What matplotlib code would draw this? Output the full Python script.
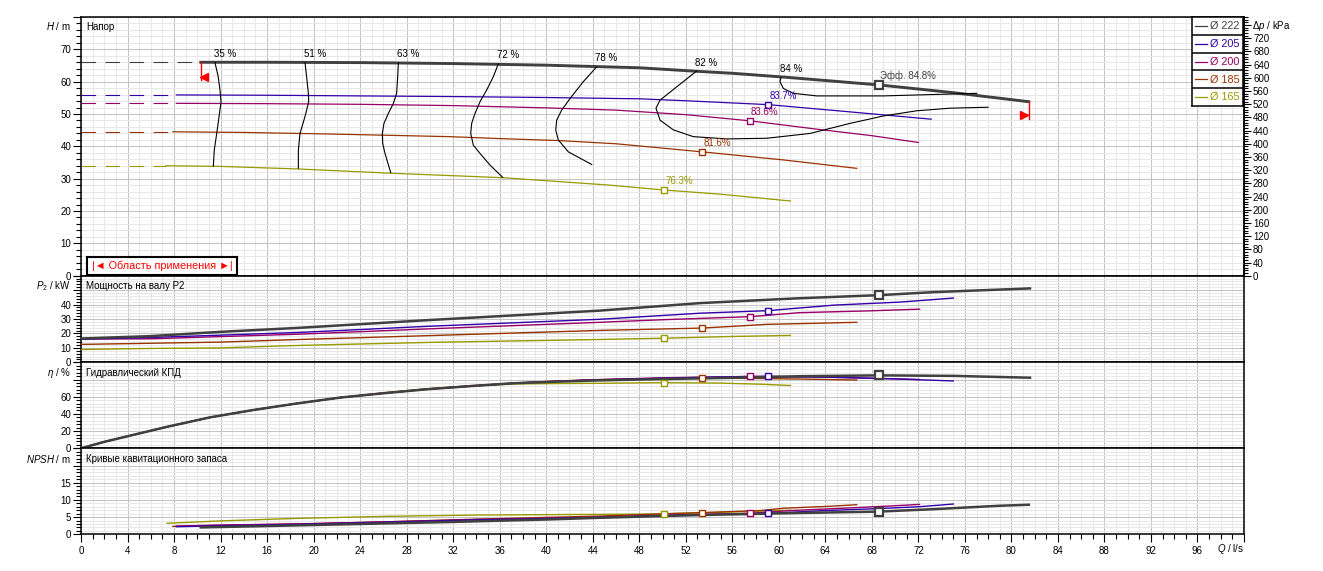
import matplotlib
matplotlib.use('Agg')
import matplotlib.pyplot as plt
from matplotlib.ticker import MultipleLocator, FuncFormatter
from matplotlib.transforms import offset_copy

plt.rcParams['font.family'] = ['Liberation Sans', 'DejaVu Sans']
plt.rcParams['mathtext.fontset'] = 'custom'
plt.rcParams['mathtext.rm'] = 'Liberation Sans'
plt.rcParams['mathtext.it'] = 'Liberation Sans:italic'
plt.rcParams['lines.scale_dashes'] = False

# ---------------- data ----------------
diam_labels = ['Ø 222', 'Ø 205', 'Ø 200', 'Ø 185', 'Ø 165']
colors = ['#404040', '#3300aa', '#990066', '#993300', '#999900']

# Head curves H(Q)
q_h_222 = [10.3, 16, 24, 32, 40, 48, 53, 56, 60.5, 68.6, 75, 81.5]
h_222 = [66.0, 66.0, 65.9, 65.6, 65.1, 64.3, 63.2, 62.6, 61.4, 59.0, 56.6, 53.8]
q_h_205 = [8.2, 16, 24, 32, 40, 48, 52, 59.1, 66, 73.1]
h_205 = [55.9, 55.8, 55.6, 55.4, 55.1, 54.7, 54.1, 52.9, 50.7, 48.4]
q_h_200 = [8.2, 16, 24, 32, 40, 46, 52, 57.5, 63.3, 68, 72.0]
h_200 = [53.3, 53.2, 53.0, 52.6, 51.9, 51.2, 49.8, 47.9, 45.3, 43.3, 41.2]
q_h_185 = [7.9, 14, 21.6, 31.7, 36, 41, 46, 53.4, 60.4, 66.7]
h_185 = [44.5, 44.3, 43.8, 43.0, 42.4, 41.8, 40.8, 38.3, 35.8, 33.2]
q_h_165 = [7.3, 12, 18.7, 26.6, 36.3, 45.5, 50.1, 55, 61]
h_165 = [34.0, 33.8, 33.0, 31.7, 30.3, 28.0, 26.5, 25.2, 23.1]

# Shaft power P2(Q)
q_p_222 = [0, 5.9, 12, 18.8, 30, 44.6, 53.2, 61.8, 68.6, 73.3, 81.6]
p_222 = [16.5, 18.1, 21.1, 23.9, 29.3, 35.8, 41.0, 44.4, 46.5, 48.6, 51.2]
q_p_205 = [0, 6, 12, 18.8, 30, 44.6, 53.2, 59.1, 64.7, 70.4, 75]
p_205 = [16.0, 17.2, 18.8, 20.7, 25.0, 29.8, 34.0, 35.8, 39.6, 41.7, 44.5]
q_p_200 = [0, 6, 12, 18.8, 30, 44.6, 50, 57.5, 61.8, 67.6, 72.1]
p_200 = [16.1, 16.3, 17.8, 19.5, 23.2, 27.7, 29.5, 31.6, 34.4, 35.6, 36.8]
q_p_185 = [0, 6, 12, 18.8, 30, 44.6, 53.4, 59, 66.7]
p_185 = [12.4, 13.2, 14.0, 15.8, 18.5, 22.1, 23.7, 26.3, 27.7]
q_p_165 = [0, 6, 12, 18.8, 30, 44.6, 50.1, 56, 61]
p_165 = [8.9, 9.6, 10.0, 11.7, 13.8, 15.8, 16.7, 17.9, 18.6]

# Hydraulic efficiency eta(Q)
q_e_222 = [0, 2, 4, 7.4, 11.1, 14.8, 18.5, 22.3, 26, 29.7, 33.5, 37.2, 41, 44.6, 50, 56, 61.8, 68.6, 75, 81.6]
e_222 = [0, 7.5, 14, 25, 36, 44.5, 52, 59, 64, 68.6, 72.3, 75.6, 77.5, 79.0, 80.5, 82.0, 83.8, 84.8, 84.2, 82.1]
q_e_205 = [0, 2, 4, 7.4, 11.1, 14.8, 18.5, 22.3, 26, 29.7, 33.5, 37.2, 41, 44.6, 50, 55, 59.1, 65, 70.4, 75]
e_205 = [0, 7.5, 14, 25, 36, 44.5, 52, 59, 64, 68.6, 72.3, 75.6, 78.0, 79.5, 81.5, 83.0, 83.7, 82.5, 80.5, 78.3]
q_e_200 = [0, 2, 4, 7.4, 11.1, 14.8, 18.5, 22.3, 26, 29.7, 33.5, 37.2, 41, 44.6, 50, 57.5, 63, 68, 72.1]
e_200 = [0, 7.5, 14, 25, 36, 44.5, 52, 59, 64, 68.6, 72.3, 75.6, 78.0, 79.8, 82.0, 83.6, 83.0, 81.5, 80.0]
q_e_185 = [0, 2, 4, 7.4, 11.1, 14.8, 18.5, 22.3, 26, 29.7, 33.5, 37.2, 41, 44.6, 49, 53.4, 58, 62, 66.7]
e_185 = [0, 7.5, 14, 25, 36, 44.5, 52, 59, 64.3, 69.0, 72.8, 76.0, 78.3, 80.0, 81.0, 81.6, 81.2, 80.5, 79.4]
q_e_165 = [0, 2, 4, 7.4, 11.1, 14.8, 18.5, 22.3, 26, 29.7, 33.5, 37.2, 41, 44.6, 50.1, 55, 58.5, 61]
e_165 = [0, 7.5, 14, 25, 36, 44.5, 52, 59, 64.5, 69.2, 72.5, 74.8, 75.3, 75.6, 76.3, 75.8, 74.5, 73.0]

# NPSH(Q)
q_n_222 = [10.3, 16, 24, 32, 40, 44.6, 53.2, 61.8, 68.6, 73.3, 79, 81.5]
n_222 = [2.0, 2.4, 3.0, 3.6, 4.3, 4.8, 5.6, 6.2, 6.6, 7.3, 8.3, 8.6]
q_n_205 = [8.2, 12, 18.5, 26, 34, 44.6, 52, 59.1, 64, 68, 72, 75]
n_205 = [2.2, 2.5, 2.9, 3.5, 4.2, 4.9, 5.6, 6.1, 6.9, 7.4, 8.0, 8.8]
q_n_200 = [8.2, 12, 18.5, 26, 34, 44.6, 52, 57.5, 61, 65, 70, 72.1]
n_200 = [2.4, 2.7, 3.0, 3.6, 4.3, 5.0, 5.7, 6.1, 6.9, 7.5, 8.3, 8.7]
q_n_185 = [7.9, 12, 18.8, 26, 34, 44.6, 51.2, 53.4, 58.4, 60.5, 64.1, 66.7]
n_185 = [2.3, 2.6, 3.0, 3.6, 4.4, 5.3, 6.1, 6.3, 6.9, 7.6, 8.1, 8.6]
q_n_165 = [7.4, 12, 18.8, 26, 34, 44.6, 50.1, 55, 61]
n_165 = [3.2, 3.9, 4.65, 5.2, 5.6, 5.8, 5.9, 6.4, 7.0]

# Best efficiency points
bep_q = [68.6, 59.1, 57.5, 53.4, 50.1]
bep_h = [59.0, 52.8, 47.9, 38.3, 26.5]
bep_p = [46.5, 35.8, 31.6, 23.7, 16.7]
bep_e = [84.8, 83.7, 83.6, 81.6, 76.3]
bep_n = [6.6, 6.1, 6.1, 6.3, 5.9]
bep_labels = ['Эфф. 84.8%', '83.7%', '83.6%', '81.6%', '76.3%']

# Iso-efficiency curves (Q, H)
iso_labels = ['35 %', '51 %', '63 %', '72 %', '78 %', '82 %', '84 %']
iso_35_q = [11.52, 11.8, 11.95, 12.04, 11.87, 11.67, 11.46, 11.38]
iso_35_h = [65.9, 61.5, 57.4, 53.8, 49.2, 44.0, 38.9, 33.9]
iso_51_q = [19.26, 19.4, 19.55, 19.58, 19.26, 18.83, 18.69, 18.69]
iso_51_h = [65.9, 61.5, 56.4, 53.8, 49.2, 44.0, 38.9, 33.2]
iso_63_q = [27.29, 27.23, 27.14, 26.86, 26.43, 26.05, 25.91, 25.94, 26.14, 26.63]
iso_63_h = [65.9, 61.5, 56.4, 53.3, 50.2, 47.1, 44.0, 40.9, 37.8, 31.9]
iso_72_q = [35.88, 35.45, 34.88, 34.31, 33.88, 33.59, 33.51, 33.73, 34.31, 35.17, 36.26]
iso_72_h = [65.5, 61.5, 57.4, 53.8, 50.2, 47.1, 44.0, 40.4, 37.8, 34.2, 30.4]
iso_78_q = [44.34, 43.19, 42.05, 41.33, 40.90, 40.82, 41.04, 41.9, 43.91]
iso_78_h = [64.6, 60.0, 54.8, 51.2, 48.1, 45.0, 42.0, 38.3, 34.4]
iso_82_q = [52.94, 51.22, 49.79, 49.44, 49.79, 50.93, 52.65, 55.52, 58.96, 62.7, 66.12, 68.99, 71.86, 74.72, 78.0]
iso_82_h = [63.3, 58.4, 54.3, 51.8, 48.1, 45.1, 43.0, 42.3, 42.5, 44.0, 47.1, 49.4, 51.0, 51.8, 52.1]
iso_84_q = [60.19, 60.1, 60.39, 61.25, 63.26, 68.99, 77.02]
iso_84_h = [61.3, 60.0, 57.9, 56.4, 55.6, 55.6, 56.4]

# ---------------- layout ----------------
W, HP = 1323, 571


def rect(x0, y0, x1, y1):
    return [x0 / W, 1 - y1 / HP, (x1 - x0) / W, (y1 - y0) / HP]


def fxy(x, y):
    return x / W, 1 - y / HP


fig = plt.figure(figsize=(W / 100, HP / 100), dpi=100)
ax_h = fig.add_axes(rect(81, 17, 1244, 275.7))
ax_p = fig.add_axes(rect(81, 275.7, 1244, 362.3), sharex=ax_h)
ax_e = fig.add_axes(rect(81, 362.3, 1244, 448.3), sharex=ax_h)
ax_n = fig.add_axes(rect(81, 448.3, 1244, 534.3), sharex=ax_h)


def style(ax, ymax, major, minor, hide_from):
    ax.set_xlim(0, 100)
    ax.set_ylim(0, ymax)
    ax.yaxis.set_major_locator(MultipleLocator(major))
    ax.yaxis.set_minor_locator(MultipleLocator(minor))
    ax.yaxis.set_major_formatter(FuncFormatter(
        lambda v, p, hf=hide_from: '' if v >= hf - 1e-6 else f'{v:g}'))
    ax.xaxis.set_major_locator(MultipleLocator(4))
    ax.xaxis.set_minor_locator(MultipleLocator(1))
    ax.grid(which='major', color='#c4c4c4', lw=0.75)
    ax.grid(which='minor', color='#e8e8e8', lw=0.75)
    ax.set_axisbelow(True)
    ax.tick_params(axis='y', which='major', direction='out', length=5.5,
                   width=0.8, pad=1.5, labelsize=7)
    ax.tick_params(axis='y', which='minor', direction='out', length=3.5, width=0.8)
    for s in ax.spines.values():
        s.set_linewidth(1.1)
        s.set_color('black')


style(ax_h, 80, 10, 2, 80)
style(ax_p, 60, 10, 2, 50)
style(ax_e, 100, 20, 4, 80)
style(ax_n, 25, 5, 1, 20)

for ax in (ax_h, ax_p, ax_e):
    ax.tick_params(axis='x', which='both', bottom=False, labelbottom=False)
ax_n.xaxis.set_major_formatter(FuncFormatter(lambda v, p: '' if v >= 99 else f'{v:g}'))
ax_n.tick_params(axis='x', which='major', direction='out', length=5.5, width=0.8,
                 pad=3, labelsize=7)
ax_n.tick_params(axis='x', which='minor', direction='out', length=3.5, width=0.8)

# secondary axis (kPa)
sec = ax_h.secondary_yaxis('right', functions=(lambda h: h * 9.807, lambda p: p / 9.807))
sec.yaxis.set_major_locator(MultipleLocator(40))
sec.yaxis.set_minor_locator(MultipleLocator(8))
sec.yaxis.set_major_formatter(FuncFormatter(lambda v, p: '' if v > 740 else f'{v:g}'))
sec.tick_params(which='major', length=5, width=0.8, pad=1.5, labelsize=7)
sec.tick_params(which='minor', length=3, width=0.8)
sec.spines['right'].set_linewidth(1.1)

# ---------------- curves ----------------
h_sets = [(q_h_222, h_222), (q_h_205, h_205), (q_h_200, h_200), (q_h_185, h_185), (q_h_165, h_165)]
p_sets = [(q_p_222, p_222), (q_p_205, p_205), (q_p_200, p_200), (q_p_185, p_185), (q_p_165, p_165)]
e_sets = [(q_e_222, e_222), (q_e_205, e_205), (q_e_200, e_200), (q_e_185, e_185), (q_e_165, e_165)]
n_sets = [(q_n_222, n_222), (q_n_205, n_205), (q_n_200, n_200), (q_n_185, n_185), (q_n_165, n_165)]

order = [4, 3, 2, 1, 0]
for i in order:
    c = colors[i]
    lw_h = 2.1 if i == 0 else 0.9
    lw_o = 1.8 if i == 0 else 1.0
    q, h = h_sets[i]
    ax_h.plot([0, q[0]], [h[0], h[0]], color=c, lw=0.8, dashes=(10.5, 6.8), zorder=3)
    ax_h.plot(q, h, color=c, lw=lw_h, zorder=4)
    q, v = p_sets[i]
    ax_p.plot(q, v, color=c, lw=lw_o, zorder=4)
    q, v = e_sets[i]
    ax_e.plot(q, v, color=c, lw=lw_o, zorder=4)
    q, v = n_sets[i]
    ax_n.plot(q, v, color=c, lw=lw_o, zorder=4)

# iso-efficiency curves
iso_sets = [(iso_35_q, iso_35_h), (iso_51_q, iso_51_h), (iso_63_q, iso_63_h),
            (iso_72_q, iso_72_h), (iso_78_q, iso_78_h), (iso_82_q, iso_82_h),
            (iso_84_q, iso_84_h)]
for (q, h), lab in zip(iso_sets, iso_labels):
    ax_h.plot(q, h, color='black', lw=0.8, zorder=5)
    ax_h.annotate(lab, (q[0], h[0]), xytext=(-1, 2.5), textcoords='offset points',
                  ha='left', va='bottom', fontsize=7, color='black', zorder=6)

# BEP markers
for i in range(5):
    c = colors[i]
    ms = 5.5 if i == 0 else 4.5
    mew = 1.6 if i == 0 else 1.0
    for ax, vals in ((ax_h, bep_h), (ax_p, bep_p), (ax_e, bep_e), (ax_n, bep_n)):
        ax.plot([bep_q[i]], [vals[i]], marker='s', ms=ms, mfc='white', mec=c,
                mew=mew, ls='none', zorder=7)
    ax_h.annotate(bep_labels[i], (bep_q[i], bep_h[i]), xytext=(1, 3),
                  textcoords='offset points', ha='left', va='bottom',
                  fontsize=7, color=c, zorder=8)

# operating range limits (red)
q0, h0 = q_h_222[0], h_222[0]
q1, h1 = q_h_222[-1], h_222[-1]
ax_h.plot([q0, q0], [h0 + 0.2, h0 - 5.5], color='red', lw=1.0, zorder=6)
ax_h.plot([q0], [h0 - 4.4], marker='<', ms=6, color='red', ls='none', zorder=6,
          transform=offset_copy(ax_h.transData, fig=fig, x=3.5, y=0, units='dots'))
ax_h.plot([q1, q1], [h1, h1 - 5.2], color='red', lw=1.0, zorder=6)
ax_h.plot([q1], [h1 - 4.1], marker='>', ms=6, color='red', ls='none', zorder=6,
          transform=offset_copy(ax_h.transData, fig=fig, x=-4.5, y=0, units='dots'))

# panel titles
ax_h.text(0.0043, 0.961, 'Напор', transform=ax_h.transAxes, fontsize=7, va='center')
ax_p.text(0.0043, 0.881, 'Мощность на валу P2', transform=ax_p.transAxes, fontsize=7, va='center')
ax_e.text(0.0043, 0.879, 'Гидравлический КПД', transform=ax_e.transAxes, fontsize=7, va='center')
ax_n.text(0.0043, 0.876, 'Кривые кавитационного запаса', transform=ax_n.transAxes,
          fontsize=7, va='center')

# axis labels
fig.text(*fxy(71, 26), '$H$ / m', ha='right', va='center', fontsize=7)
fig.text(*fxy(71, 286.5), '$P_2$ / kW', ha='right', va='center', fontsize=7)
fig.text(*fxy(71, 373), r'$\eta$ / %', ha='right', va='center', fontsize=7)
fig.text(*fxy(71, 459), '$NPSH$ / m', ha='right', va='center', fontsize=7)
fig.text(*fxy(1244, 549), '$Q$ / l/s', ha='right', va='center', fontsize=7)
fig.text(*fxy(1252, 26), 'Δ$p$ / kPa', ha='left', va='center', fontsize=7)

# legend box
lg = fig.add_axes(rect(1192, 17, 1243, 106))
lg.set_xlim(0, 51)
lg.set_ylim(89, 0)
lg.set_xticks([])
lg.set_yticks([])
lg.set_facecolor('white')
for s in lg.spines.values():
    s.set_linewidth(1.1)
row = 89 / 5
for i, (lab, c) in enumerate(zip(diam_labels, colors)):
    yc = row * (i + 0.5)
    lg.plot([3, 14.7], [yc, yc], color=c, lw=0.9)
    lg.text(17.5, yc + 0.3, lab, color=c, fontsize=7.8, va='center', ha='left')
    if i > 0:
        lg.axhline(row * i, color='black', lw=1.1)

# application range box
bx = fig.add_axes(rect(87, 257, 237, 275.2))
bx.set_xticks([])
bx.set_yticks([])
bx.set_facecolor('white')
for s in bx.spines.values():
    s.set_linewidth(1.5)
bx.text(0.5, 0.5, '|◄ Область применения ►|', color='red', fontsize=7.8,
        ha='center', va='center', transform=bx.transAxes)

fig.savefig('out.png', dpi=100)
